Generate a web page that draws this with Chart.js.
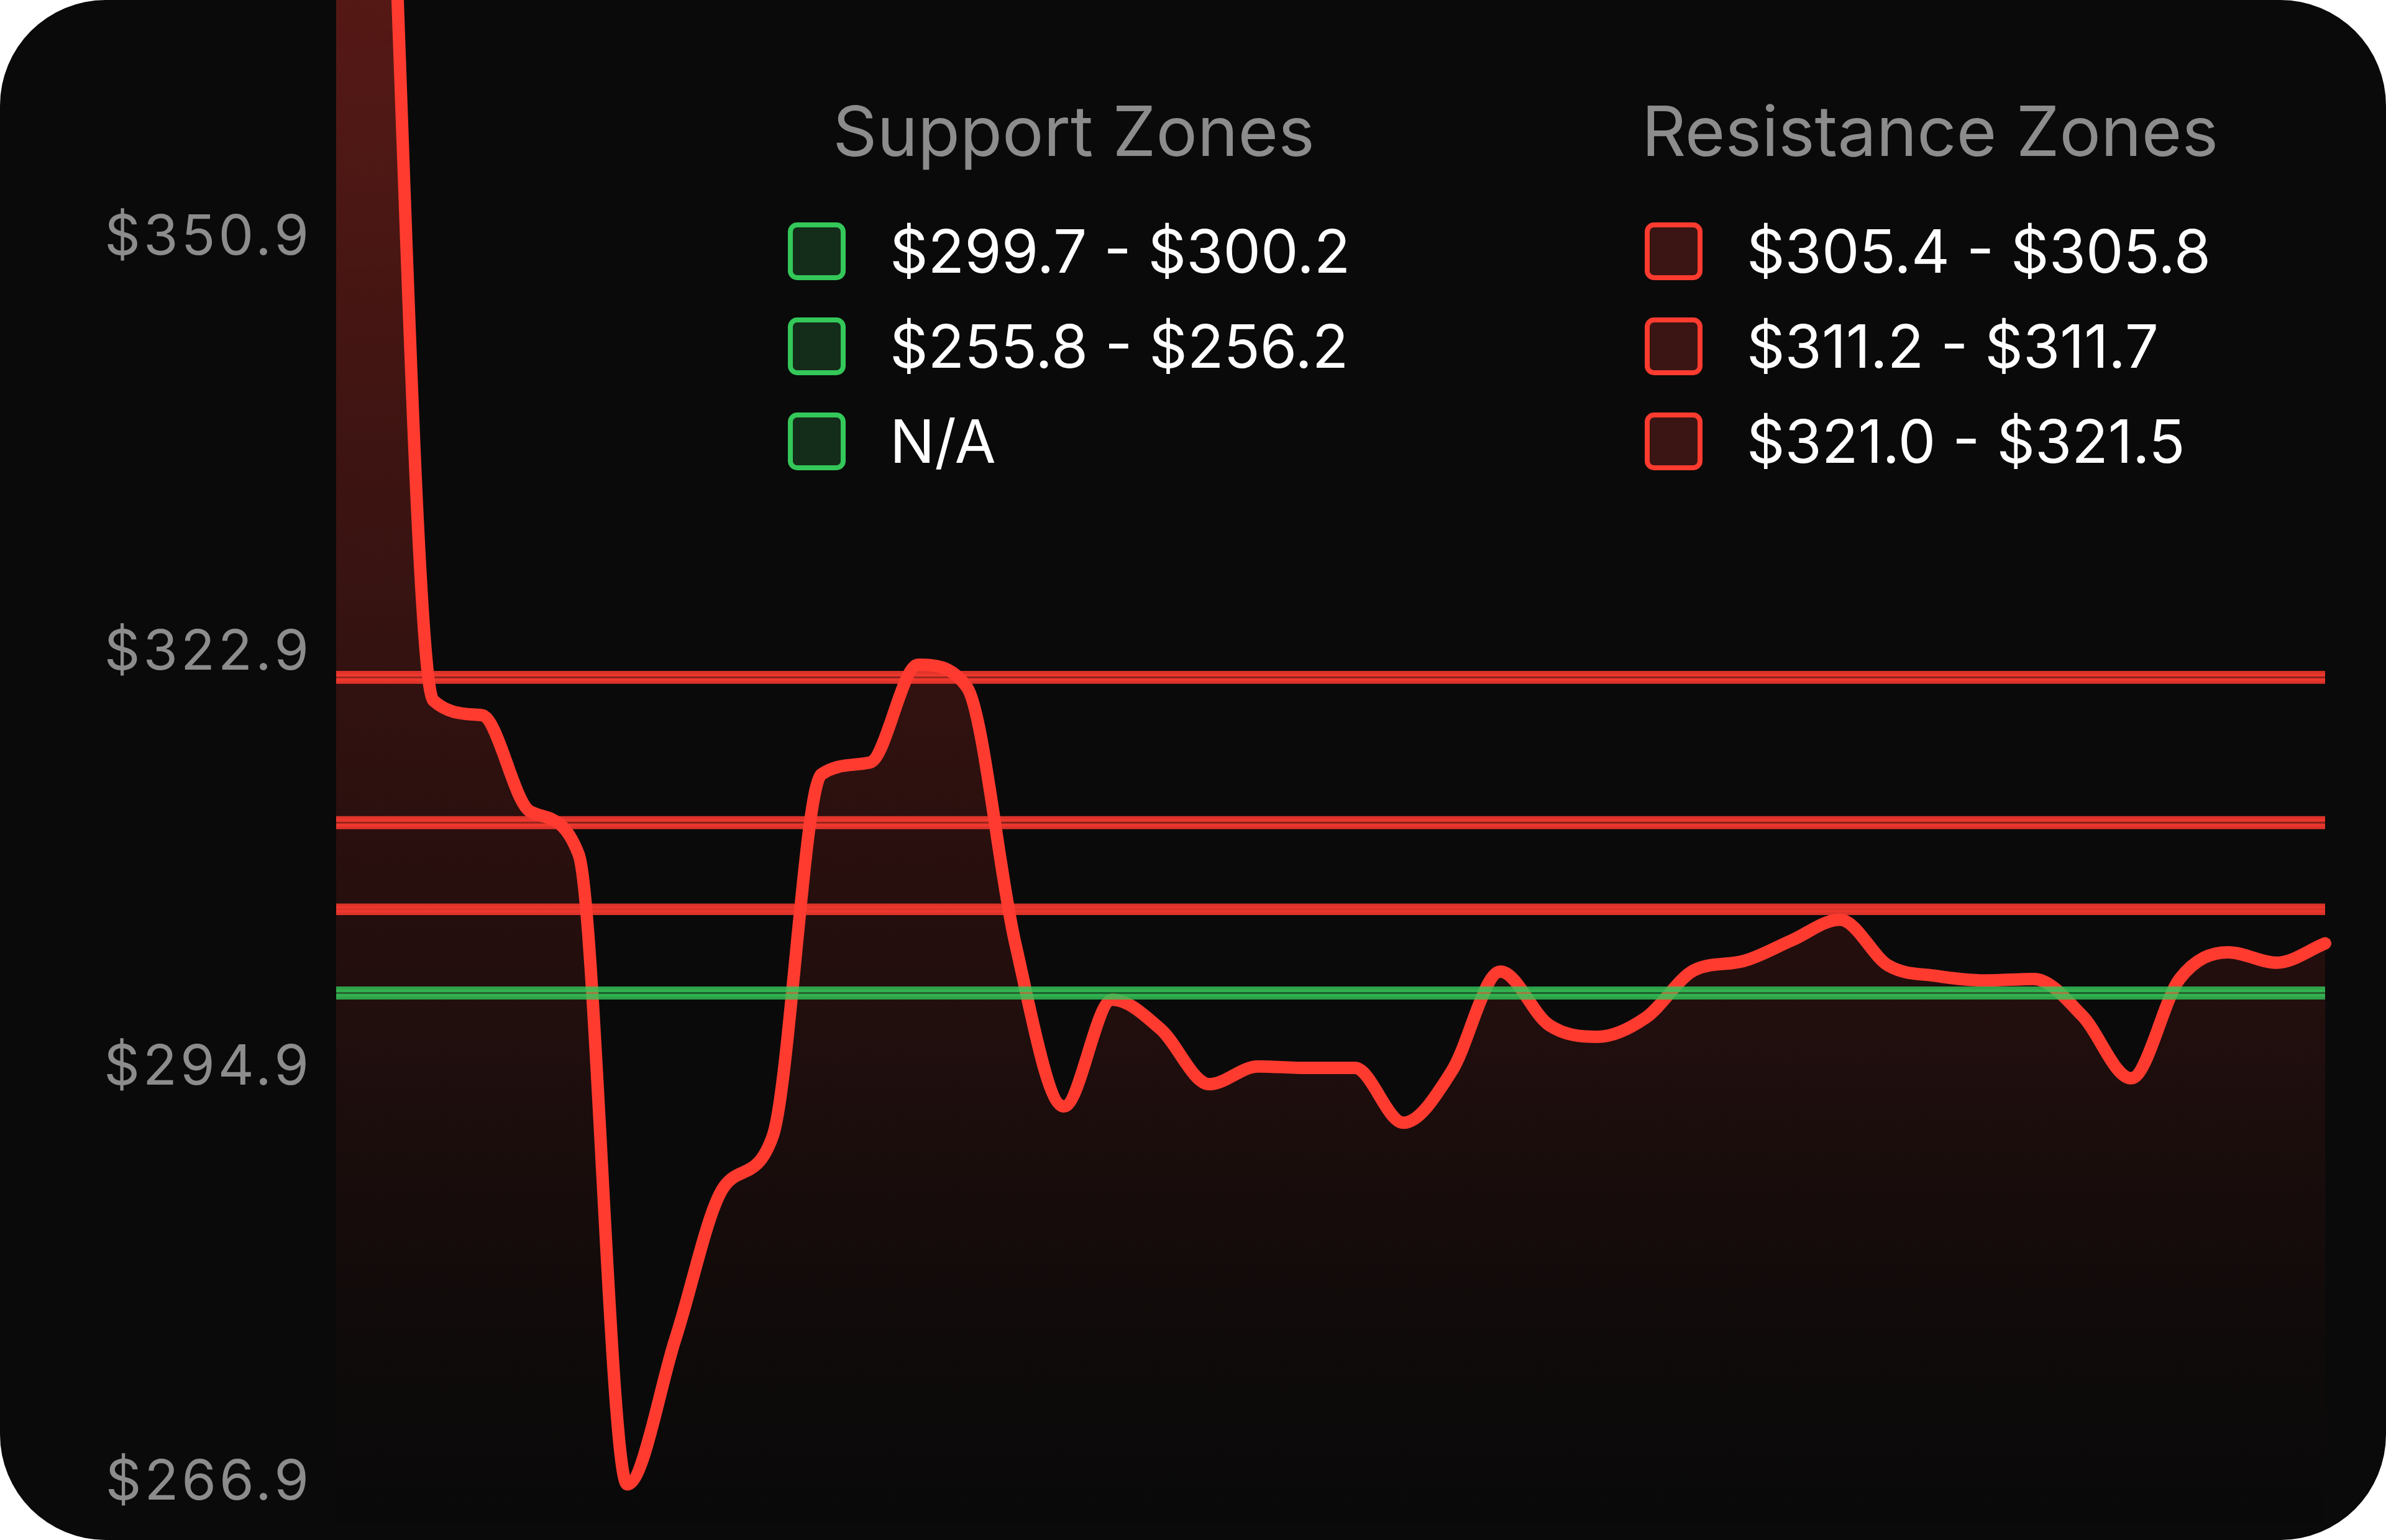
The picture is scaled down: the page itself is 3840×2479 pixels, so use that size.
<!DOCTYPE html>
<html>
<head>
<meta charset="utf-8">
<script src="https://cdn.jsdelivr.net/npm/chart.js@4.4.1/dist/chart.umd.min.js"></script>
<style>
  html, body { margin: 0; padding: 0; background: #ffffff; }
  #card {
    position: relative;
    width: 3840px;
    height: 2479px;
    background: #0a0a0a;
    border-radius: 170px;
    overflow: hidden;
    font-family: Inter, "Noto Sans", sans-serif;
  }
  #grafica { position: absolute; left: 0; top: 0; }
  .titulo {
    position: absolute;
    font-size: 111px;
    line-height: 112px;
    color: #8c8c8c;
    white-space: nowrap;
    transform: translateX(-50%);
  }
  .fila {
    position: absolute;
    height: 93px;
    white-space: nowrap;
  }
  .caja {
    position: absolute;
    left: 0;
    top: 0;
    width: 93px;
    height: 93px;
    box-sizing: border-box;
    border-radius: 15px;
    border: 8px solid;
  }
  .texto {
    position: absolute;
    left: 164px;
    top: 0;
    font-size: 96px;
    line-height: 93px;
    color: #ffffff;
  }
</style>
</head>
<body>
<div id="card">
  <canvas id="grafica" width="3840" height="2479"></canvas>
</div>

<script>

// ===============================
// DATOS
// ===============================

const precios = [470, 390, 319.7, 318.7, 312.2, 309.3, 266.8, 276.7, 286.9, 290.3,
                 314.7, 315.5, 322.1, 320.6, 303.3, 292.3, 299.5, 297.5, 293.8, 295.0,
                 294.9, 294.9, 291.2, 294.7, 301.4, 297.8, 297.0, 298.3, 301.5, 302.1,
                 303.5, 304.9, 301.8, 301.1, 300.8, 300.9, 298.4, 294.2, 300.9, 302.7,
                 302.0, 303.3];

const etiquetas = precios.map((p, i) => i + 1);

const soporteBajo = [299.7, 255.8, null];
const soporteAlto = [300.2, 256.2, null];

const resistenciaBajo = [305.4, 311.2, 321.0];
const resistenciaAlto = [305.8, 311.7, 321.5];

const ticksY = [266.9, 294.9, 322.9, 350.9];

const ROJO = "#FF3B30";
const VERDE = "#34C759";


// ===============================
// LEYENDA
// ===============================

function textoZona(bajo, alto) {
    if (bajo === null) return "N/A";
    return "$" + bajo.toFixed(1) + " - $" + alto.toFixed(1);
}

function crearColumna(titulo, centroX, cajaX, bajos, altos, borde, relleno) {

    const card = document.getElementById("card");

    const h = document.createElement("div");
    h.className = "titulo";
    h.textContent = titulo;
    h.style.left = centroX + "px";
    h.style.top = "155px";
    card.appendChild(h);

    const filasY = [358, 511, 664];

    bajos.forEach((bajo, i) => {

        const fila = document.createElement("div");
        fila.className = "fila";
        fila.style.left = cajaX + "px";
        fila.style.top = filasY[i] + "px";

        const caja = document.createElement("div");
        caja.className = "caja";
        caja.style.borderColor = borde;
        caja.style.background = relleno;

        const texto = document.createElement("div");
        texto.className = "texto";
        texto.textContent = textoZona(bajo, altos[i]);

        fila.appendChild(caja);
        fila.appendChild(texto);
        card.appendChild(fila);

    });
}

crearColumna("Support Zones", 1728, 1268, soporteBajo, soporteAlto, VERDE, "#142c1a");
crearColumna("Resistance Zones", 3106, 2647, resistenciaBajo, resistenciaAlto, ROJO, "#3a1513");


// ===============================
// ZONAS COMO BANDAS
// ===============================

function bandas(bajos, altos, linea, relleno) {

    let lista = [];

    bajos.forEach((bajo, i) => {

        if (bajo === null) return;

        lista.push({
            data: etiquetas.map(() => bajo),
            borderColor: linea,
            borderWidth: 9,
            pointRadius: 0,
            fill: false,
            order: 0
        });

        lista.push({
            data: etiquetas.map(() => altos[i]),
            borderColor: linea,
            borderWidth: 9,
            pointRadius: 0,
            fill: "-1",
            backgroundColor: relleno,
            order: 0
        });

    });

    return lista;
}

const zonas = [
    ...bandas(resistenciaBajo, resistenciaAlto, "rgba(255,59,48,0.85)", "rgba(255,59,48,0.5)"),
    ...bandas(soporteBajo, soporteAlto, "rgba(52,199,89,0.8)", "rgba(52,199,89,0.45)")
];


// espaciado de letras en las etiquetas del eje
const espaciado = {
    id: "espaciado",
    beforeDraw: (chart) => { chart.ctx.letterSpacing = "5px"; },
    afterDraw: (chart) => { chart.ctx.letterSpacing = "0px"; }
};


// ===============================
// GRÁFICA
// ===============================

new Chart(document.getElementById("grafica"), {

    type: "line",

    plugins: [espaciado],

    data: {

        labels: etiquetas,

        datasets: [

            ...zonas,

            {
                label: "Precio",
                data: precios,
                borderColor: ROJO,
                borderWidth: 20,
                borderJoinStyle: "round",
                borderCapStyle: "round",
                pointRadius: 0,
                cubicInterpolationMode: "monotone",
                fill: "start",
                order: 1,
                backgroundColor: (ctx) => {
                    const area = ctx.chart.chartArea;
                    if (!area) return "rgba(255,59,48,0.15)";
                    const g = ctx.chart.ctx.createLinearGradient(0, area.top, 0, area.bottom);
                    g.addColorStop(0, "rgba(255,59,48,0.31)");
                    g.addColorStop(0.89, "rgba(255,59,48,0.02)");
                    g.addColorStop(1, "rgba(255,59,48,0)");
                    return g;
                }
            }

        ]

    },

    options: {

        responsive: false,
        devicePixelRatio: 1,
        animation: false,

        layout: {
            padding: { left: 0, right: 98, top: 0, bottom: 0 }
        },

        plugins: {
            legend: { display: false },
            tooltip: { enabled: false }
        },

        scales: {

            x: {
                display: false
            },

            y: {
                min: 263.05,
                max: 366.95,
                grid: { display: false, drawTicks: false },
                border: { display: false },
                afterBuildTicks: (escala) => {
                    escala.ticks = ticksY.map(v => ({ value: v }));
                },
                afterFit: (escala) => {
                    escala.width = 541;
                    escala.paddingTop = 0;
                    escala.paddingBottom = 0;
                },
                ticks: {
                    padding: 39,
                    color: "#8c8c8c",
                    font: { family: "Inter", size: 90 },
                    callback: (v) => "$" + Number(v).toFixed(1)
                }
            }

        }

    }

});

</script>
</body>
</html>
